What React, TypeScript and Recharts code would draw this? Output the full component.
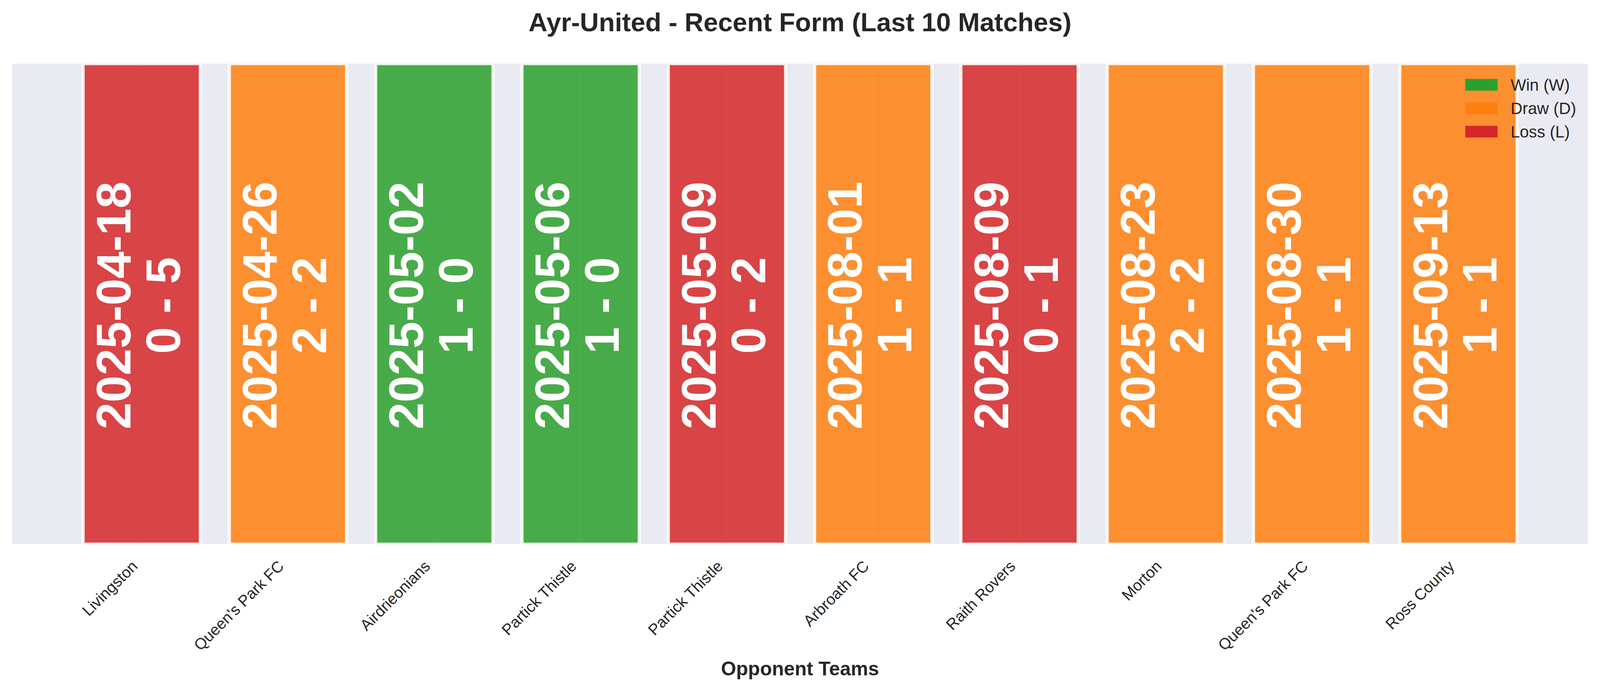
import React from 'react';
import { BarChart, Bar, XAxis, YAxis, CartesianGrid, Cell, LabelList, Label } from 'recharts';

const opponents = [
  'Livingston',
  "Queen's Park FC",
  'Airdrieonians',
  'Partick Thistle',
  'Partick Thistle',
  'Arbroath FC',
  'Raith Rovers',
  'Morton',
  "Queen's Park FC",
  'Ross County',
];
const matchDates = [
  '2025-04-18',
  '2025-04-26',
  '2025-05-02',
  '2025-05-06',
  '2025-05-09',
  '2025-08-01',
  '2025-08-09',
  '2025-08-23',
  '2025-08-30',
  '2025-09-13',
];
const scores = ['0 - 5', '2 - 2', '1 - 0', '1 - 0', '0 - 2', '1 - 1', '0 - 1', '2 - 2', '1 - 1', '1 - 1'];
const results = ['L', 'D', 'W', 'W', 'L', 'D', 'L', 'D', 'D', 'D'];
const formValue = [1, 1, 1, 1, 1, 1, 1, 1, 1, 1];

const legendKeys = ['W', 'D', 'L'];
const legendLabels = ['Win (W)', 'Draw (D)', 'Loss (L)'];

const RESULT_COLORS: Record<string, string> = {
  W: '#2ca02c',
  D: '#ff7f0e',
  L: '#d62728',
};

const FONT = '"Liberation Sans", Arial, Helvetica, sans-serif';
const TEXT = '#262626';

// the page is only 4096 wide, so horizontal measures are squeezed to fit
const W = 4096;
const H = 1769;
const KX = W / 4170;

const data = opponents.map((name, i) => ({
  idx: i,
  opponent: name,
  date: matchDates[i],
  score: scores[i],
  result: results[i],
  value: formValue[i],
}));

const OpponentTick = ({ x, y, payload }: any) => (
  <g transform={`translate(${x},${y})`}>
    <text
      x={-8}
      y={59}
      transform="rotate(-45, -8, 59)"
      textAnchor="end"
      fontSize={40}
      fontFamily={FONT}
      fill={TEXT}
    >
      {opponents[payload.value]}
    </text>
  </g>
);

const MatchLabel = (props: any) => {
  const { x, y, width, height, index } = props;
  const cx = x + width / 2;
  const cy = y + height / 2;
  return (
    <g transform={`translate(${cx},${cy}) rotate(-90)`}>
      <text textAnchor="middle" fontSize={124} fontWeight="bold" fontFamily={FONT} fill="#ffffff">
        <tspan x={-4} y={-29.5 * KX}>{matchDates[index]}</tspan>
        <tspan x={-4} y={99.5 * KX}>{scores[index]}</tspan>
      </text>
    </g>
  );
};

// title + legend sit on top of the bars, like matplotlib's legend
const Overlay = () => (
  <svg width={W} height={H} style={{ position: 'absolute', left: 0, top: 0, pointerEvents: 'none' }}>
    <text
      x={W / 2}
      y={80}
      textAnchor="middle"
      fontSize={67}
      fontWeight="bold"
      fontFamily={FONT}
      fill={TEXT}
    >
      Ayr-United - Recent Form (Last 10 Matches)
    </text>
    {legendKeys.map((k, i) => (
      <g key={k}>
        <rect x={3819 * KX} y={202 + i * 60} width={84 * KX} height={30} fill={RESULT_COLORS[k]} />
        <text x={3937 * KX} y={232 + i * 60} fontSize={42} fontFamily={FONT} fill={TEXT}>
          {legendLabels[i]}
        </text>
      </g>
    ))}
  </svg>
);

const App = () => {
  return (
    <div style={{ position: 'absolute', left: 0, top: 0, width: W, height: H, background: '#ffffff' }}>
      <BarChart
        width={W}
        height={H}
        data={data}
        margin={{ top: 163, right: 30 * KX, bottom: 76, left: 30 * KX }}
        barCategoryGap="10%"
      >
        <CartesianGrid
          horizontal={false}
          vertical={true}
          fill="#EAEAF2"
          fillOpacity={1}
          stroke="#ffffff"
          strokeWidth={3.3}
        />
        <XAxis
          dataKey="idx"
          type="category"
          interval={0}
          padding={{ left: 148.5 * KX, right: 148.5 * KX }}
          height={300}
          tickLine={false}
          axisLine={false}
          tickSize={0}
          tickMargin={0}
          tick={<OpponentTick />}
        >
          <Label
            content={(p: any) => {
              const vb = p.viewBox;
              return (
                <text
                  x={vb.x + vb.width / 2}
                  y={vb.y + 336}
                  textAnchor="middle"
                  fontSize={50}
                  fontWeight="bold"
                  fontFamily={FONT}
                  fill={TEXT}
                >
                  Opponent Teams
                </text>
              );
            }}
          />
        </XAxis>
        <YAxis hide domain={[0, 1]} />
        <Bar
          dataKey="value"
          isAnimationActive={false}
          fillOpacity={0.85}
          stroke="#ffffff"
          strokeOpacity={0.85}
          strokeWidth={8}
        >
          {data.map((d, i) => (
            <Cell key={`cell-${i}`} fill={RESULT_COLORS[d.result]} />
          ))}
          <LabelList dataKey="date" content={<MatchLabel />} />
        </Bar>
      </BarChart>
      <Overlay />
    </div>
  );
};

export default App;
